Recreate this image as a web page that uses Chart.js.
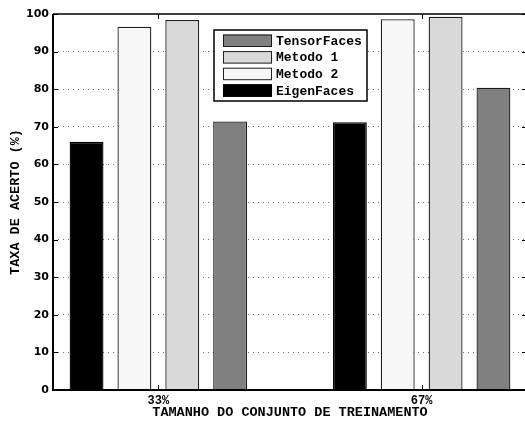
<!DOCTYPE html>
<html>
<head>
<meta charset="utf-8">
<script src="https://cdn.jsdelivr.net/npm/chart.js@4/dist/chart.umd.min.js"></script>
<style>
  html, body { margin: 0; padding: 0; background: #fff; overflow: hidden; width: 525px; height: 421px; }
  #wrap { width: 525px; height: 421px; overflow: hidden; position: relative; }
  #chart { position: absolute; left: 0; top: 0; }
</style>
</head>
<body>
<div id="wrap"><canvas id="chart" width="534" height="421"></canvas></div>
<script>
// Training-set sizes (one group of bars each)
const groups = ['33%', '67%'];
// Recognition rate (%) per method
const eigenFaces = [66.0, 71.2];
const metodo2 = [96.6, 98.6];
const metodo1 = [98.4, 99.3];
const tensorFaces = [71.4, 80.4];
// Y axis ticks
const yTicks = [0, 10, 20, 30, 40, 50, 60, 70, 80, 90, 100];

const toPoints = vals => vals.map((v, i) => ({ x: i + 1, y: v }));

const monoBold = size => ({ family: "'Liberation Mono', 'Courier New', monospace", size, weight: 'bold' });

// Axis frame with MATLAB-style inward ticks
const framePlugin = {
  id: 'frame',
  afterDatasetsDraw(chart) {
    const { ctx, chartArea: a, scales: { x, y } } = chart;
    ctx.save();
    ctx.strokeStyle = '#000';
    ctx.lineWidth = 1;
    ctx.beginPath();
    yTicks.forEach(v => {
      const py = Math.round(y.getPixelForValue(v)) + 0.5;
      ctx.moveTo(a.left, py); ctx.lineTo(a.left + 5, py);
      ctx.moveTo(a.right - 5, py); ctx.lineTo(a.right, py);
    });
    groups.forEach((g, i) => {
      const px = Math.round(x.getPixelForValue(i + 1)) + 0.5;
      ctx.moveTo(px, a.bottom); ctx.lineTo(px, a.bottom - 5);
      ctx.moveTo(px, a.top); ctx.lineTo(px, a.top + 5);
    });
    ctx.stroke();
    ctx.lineWidth = 2;
    ctx.beginPath();
    ctx.moveTo(a.left, a.top); ctx.lineTo(a.left, a.bottom); ctx.lineTo(a.right, a.bottom);
    ctx.stroke();
    ctx.lineWidth = 1.5;
    ctx.beginPath();
    ctx.moveTo(a.left, a.top); ctx.lineTo(a.right, a.top);
    ctx.stroke();
    ctx.restore();
  }
};

// Boxed legend inside the plot, listed in reverse dataset order
const boxLegendPlugin = {
  id: 'boxLegend',
  afterDraw(chart) {
    const { ctx, chartArea: a } = chart;
    const bx = a.left + 161, by = a.top + 16, bw = 153, bh = 71;
    ctx.save();
    ctx.fillStyle = '#fff';
    ctx.fillRect(bx, by, bw, bh);
    ctx.strokeStyle = '#000';
    ctx.lineWidth = 1.5;
    ctx.strokeRect(bx, by, bw, bh);
    const items = chart.data.datasets.slice().reverse();
    ctx.font = "bold 13px 'Liberation Mono', 'Courier New', monospace";
    ctx.textBaseline = 'middle';
    items.forEach((ds, i) => {
      const sy = by + 4.5 + i * 16.6;
      ctx.fillStyle = ds.backgroundColor;
      ctx.fillRect(bx + 9, sy, 49, 12.5);
      ctx.strokeStyle = ds.borderColor;
      ctx.lineWidth = 1;
      ctx.strokeRect(bx + 9.5, sy + 0.5, 48, 11.5);
      ctx.fillStyle = '#000';
      ctx.fillText(ds.label, bx + 62, sy + 7);
    });
    ctx.restore();
  }
};

const barOpts = { borderWidth: 1.3, categoryPercentage: 0.727, barPercentage: 0.708 };

new Chart(document.getElementById('chart'), {
  type: 'bar',
  data: {
    datasets: [
      { label: 'EigenFaces', data: toPoints(eigenFaces), backgroundColor: '#000000', borderColor: '#000000', ...barOpts },
      { label: 'Metodo 2', data: toPoints(metodo2), backgroundColor: '#f7f7f7', borderColor: '#202020', ...barOpts },
      { label: 'Metodo 1', data: toPoints(metodo1), backgroundColor: '#d9d9d9', borderColor: '#202020', ...barOpts },
      { label: 'TensorFaces', data: toPoints(tensorFaces), backgroundColor: '#808080', borderColor: '#1a1a1a', ...barOpts }
    ]
  },
  options: {
    responsive: false,
    animation: false,
    layout: { padding: { top: 14, right: 7, left: 0, bottom: 0 } },
    plugins: { legend: { display: false }, tooltip: { enabled: false } },
    scales: {
      x: {
        type: 'linear',
        offset: false,
        min: 0.6,
        max: 2.4,
        afterBuildTicks: scale => { scale.ticks = groups.map((g, i) => ({ value: i + 1 })); },
        afterFit: scale => { scale.height = 31; },
        grid: { display: false, drawTicks: false, offset: false },
        border: { display: false },
        ticks: {
          color: '#000',
          font: monoBold(12),
          padding: 4,
          autoSkip: false,
          maxRotation: 0,
          callback: v => groups[v - 1]
        },
        title: {
          display: true,
          text: 'TAMANHO DO CONJUNTO DE TREINAMENTO',
          color: '#000',
          font: monoBold(13.5),
          padding: { top: 0, bottom: 0 }
        }
      },
      y: {
        min: 0,
        max: 100,
        afterBuildTicks: scale => { scale.ticks = yTicks.map(v => ({ value: v })); },
        afterFit: scale => { scale.width = 53; },
        grid: {
          color: c => (c.tick && (c.tick.value === 0 || c.tick.value === 100)) ? 'rgba(0,0,0,0)' : '#707070',
          lineWidth: 1,
          drawTicks: false
        },
        border: { display: false, dash: [1, 4] },
        ticks: {
          color: '#000',
          font: { family: "'DejaVu Sans', sans-serif", size: 11, weight: 'bold' },
          padding: 4
        },
        title: {
          display: true,
          text: 'TAXA DE ACERTO (%)',
          color: '#000',
          font: monoBold(13.5),
          padding: { top: 7, bottom: 0 }
        }
      }
    }
  },
  plugins: [framePlugin, boxLegendPlugin]
});
</script>
</body>
</html>
